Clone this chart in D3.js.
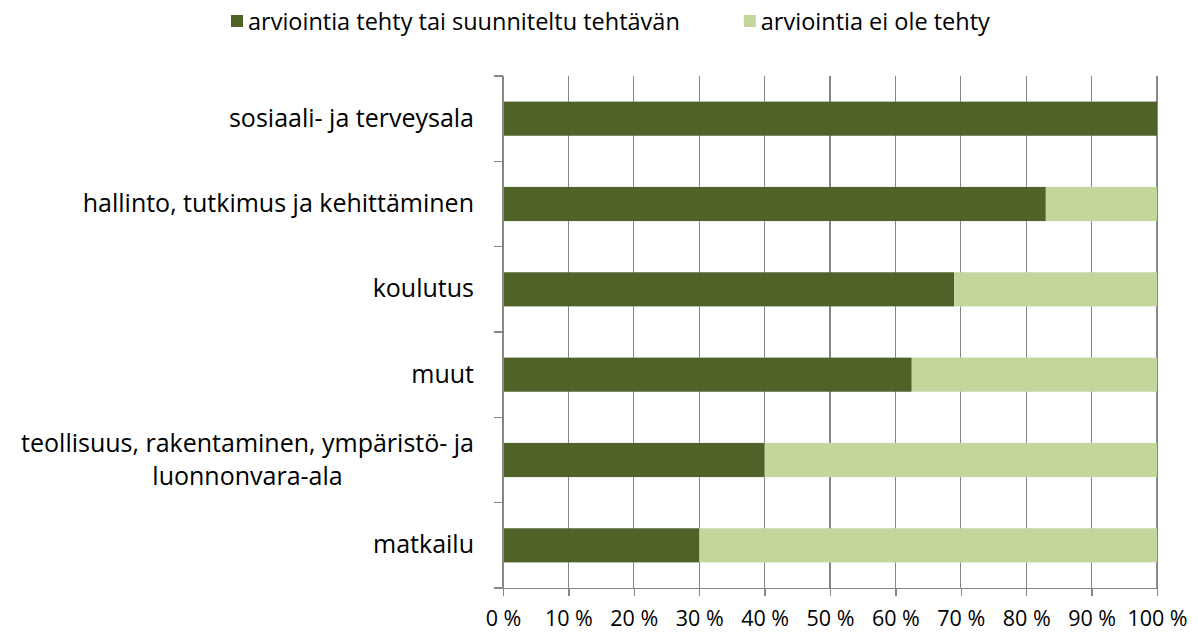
<!DOCTYPE html>
<html lang="fi">
<head>
<meta charset="utf-8">
<title>Arviointi toimialoittain</title>
<script src="https://d3js.org/d3.v7.min.js"></script>
<style>
  body { margin: 0; background: #fff; }
  svg text { font-family: "Open Sans", sans-serif; fill: #000; }
  .grid line, .axis path, .axis line { stroke: #868686; stroke-width: 1.3; shape-rendering: crispEdges; }
</style>
</head>
<body>
<div id="chart"></div>
<script>
// categories, top to bottom ("\n" marks a line break in the label)
var categories = [
  "sosiaali- ja terveysala",
  "hallinto, tutkimus ja kehittäminen",
  "koulutus",
  "muut",
  "teollisuus, rakentaminen, ympäristö- ja\nluonnonvara-ala",
  "matkailu"
];
// share (%) where evaluation has been done or is planned
var doneValues = [100, 83, 69, 62.5, 40, 30];
// share (%) where evaluation has not been done
var notDoneValues = [0, 17, 31, 37.5, 60, 70];
var seriesNames = ["arviointia tehty tai suunniteltu tehtävän", "arviointia ei ole tehty"];
var seriesColors = ["#4F6228", "#C3D69B"];
var xTicks = [0, 10, 20, 30, 40, 50, 60, 70, 80, 90, 100];

var W = 1198, H = 634;
var margin = {top: 76, right: 41, bottom: 46, left: 503};

var svg = d3.select("#chart").append("svg")
  .attr("width", W)
  .attr("height", H);

var x = d3.scaleLinear().domain([0, 100]).range([margin.left, W - margin.right]);
var y = d3.scaleBand().domain(categories).range([margin.top, H - margin.bottom]).paddingInner(0.6).paddingOuter(0.3);

// vertical gridlines
svg.append("g").attr("class", "grid")
  .selectAll("line")
  .data(xTicks.slice(1))
  .enter().append("line")
    .attr("x1", function(d) { return x(d); })
    .attr("x2", function(d) { return x(d); })
    .attr("y1", margin.top)
    .attr("y2", H - margin.bottom);

// stacked bars
var rows = categories.map(function(c, i) {
  return {cat: c, vals: [doneValues[i], notDoneValues[i]]};
});
rows.forEach(function(r) {
  var start = 0;
  r.vals.forEach(function(v, k) {
    if (v > 0) {
      svg.append("rect")
        .attr("x", x(start))
        .attr("y", y(r.cat))
        .attr("width", x(start + v) - x(start))
        .attr("height", y.bandwidth())
        .attr("fill", seriesColors[k]);
    }
    start += v;
  });
});

// x axis
var xAxis = svg.append("g").attr("class", "axis")
  .attr("transform", "translate(0," + (H - margin.bottom) + ")")
  .call(d3.axisBottom(x).tickValues(xTicks).tickSize(8).tickSizeOuter(0)
    .tickFormat(function(d) { return d + " %"; }));
xAxis.selectAll("text").attr("font-size", 21.5).attr("dy", 0).attr("y", 38);

// y axis: line with ticks at band boundaries
var step = y.step();
var yEdges = d3.range(categories.length + 1).map(function(i) { return margin.top + i * step; });
var yAxis = svg.append("g").attr("class", "axis");
yAxis.append("line")
  .attr("x1", margin.left).attr("x2", margin.left)
  .attr("y1", margin.top).attr("y2", H - margin.bottom);
yAxis.selectAll("line.tick")
  .data(yEdges)
  .enter().append("line")
    .attr("class", "tick")
    .attr("x1", margin.left - 9).attr("x2", margin.left)
    .attr("y1", function(d) { return d; }).attr("y2", function(d) { return d; });

// category labels
categories.forEach(function(c) {
  var lines = c.split("\n");
  var cy = y(c) + y.bandwidth() / 2;
  var t = svg.append("text")
    .attr("font-size", 25)
    .attr("text-anchor", lines.length > 1 ? "middle" : "end");
  var lh = 33;
  lines.forEach(function(l, i) {
    t.append("tspan")
      .attr("x", 474)
      .attr("y", cy + 8 + (i - (lines.length - 1) / 2) * lh)
      .text(l);
  });
  if (lines.length > 1) {
    // centre the block so its right edge sits at 474
    var w = t.node().getBBox().width;
    t.selectAll("tspan").attr("x", 474 - w / 2);
  }
});

// legend
var legend = svg.append("g");
var lx = 231;
seriesNames.forEach(function(n, k) {
  legend.append("rect")
    .attr("x", lx).attr("y", 15).attr("width", 12).attr("height", 12)
    .attr("fill", seriesColors[k]);
  var t = legend.append("text")
    .attr("x", lx + 17).attr("y", 30)
    .attr("font-size", 23.5)
    .text(n);
  lx = lx + 17 + t.node().getComputedTextLength() + 64;
});
</script>
</body>
</html>
